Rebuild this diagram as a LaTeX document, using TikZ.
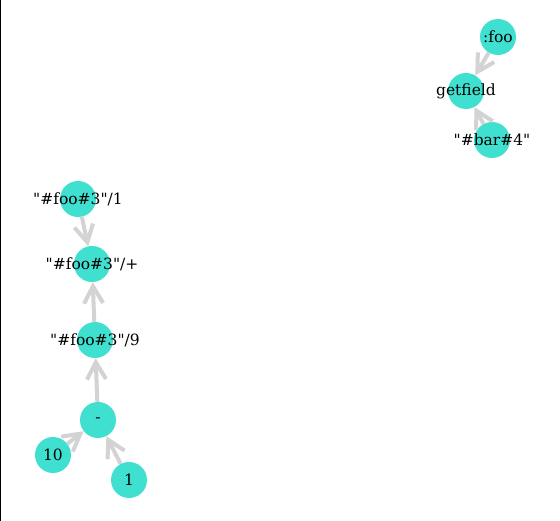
\documentclass[tikz,border=0pt]{standalone}
\usepackage{fontspec}
\newfontfamily\lblfont{DejaVu Serif}
\usetikzlibrary{arrows.meta}
\definecolor{turq}{HTML}{40E0D0}
\definecolor{edgegray}{HTML}{D3D3D3}
\newcommand{\dq}{\char34 }
\begin{document}
\begin{tikzpicture}[x=1pt,y=-1pt,
  vert/.style={circle,fill=turq,minimum size=36pt,inner sep=0pt},
  lbl/.style={font=\lblfont\fontsize{15.5}{18}\selectfont,inner sep=0pt},
  conn/.style={draw=edgegray,line width=4pt,-{Straight Barb[length=17pt,width=19pt,line width=4pt]},shorten >=0pt}]
\useasboundingbox (0,0) rectangle (560,521);
\fill[white] (0,0) rectangle (560,521);
\draw[black,line width=1.2pt] (0.6,0) -- (0.6,521);
% nodes
\node[vert] (foo) at (498,37) {};
\node[vert] (getfield) at (466,91) {};
\node[vert] (bar) at (492,140) {};
\node[vert] (f1) at (78,199) {};
\node[vert] (fplus) at (92,264) {};
\node[vert] (f9) at (95,340) {};
\node[vert] (minus) at (98,420) {};
\node[vert] (ten) at (53,455) {};
\node[vert] (one) at (129,480) {};
% edges
\draw[conn] (foo) -- (getfield);
\draw[conn] (bar) -- (getfield);
\draw[conn] (f1) -- (fplus);
\draw[conn] (f9) -- (fplus);
\draw[conn] (minus) -- (f9);
\draw[conn] (ten) -- (minus);
\draw[conn] (one) -- (minus);
% labels
\node[lbl] (tfoo) at (foo) {:foo};
\node[lbl] (tgetfield) at (getfield) {getfield};
\node[lbl] (tbar) at (bar) {\dq\#bar\#4\dq};
\node[lbl] (tf1) at (f1) {\dq\#foo\#3\dq/1};
\node[lbl] (tfplus) at (fplus) {\dq\#foo\#3\dq/+};
\node[lbl] (tf9) at (f9) {\dq\#foo\#3\dq/9};
\node[lbl] (tminus) at (minus) {-};
\node[lbl] (tten) at (ten) {10};
\node[lbl] (tone) at (one) {1};
\end{tikzpicture}
\end{document}
